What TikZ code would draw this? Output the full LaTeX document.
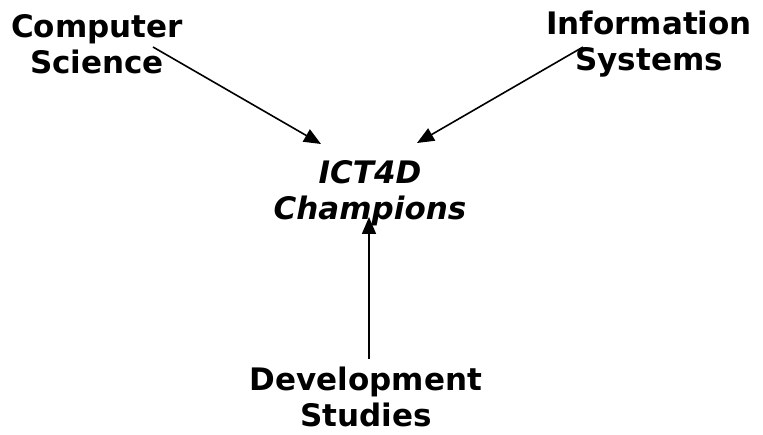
\documentclass[tikz,border=0pt]{standalone}
\usepackage{fontspec}
\setmainfont{DejaVu Sans}
\usepackage{tikz}
\usetikzlibrary{arrows.meta}
\usetikzlibrary{positioning}
\usetikzlibrary{calc}
\newcommand{\fnode}[3]{\node(#1)[field] at (#2){#3}}

\begin{document}
\begin{tikzpicture}[
        x=1pt, y=-1pt,
        every node/.style={font=\fontsize{31}{36}\selectfont\bfseries},
        field/.style={align=center, inner sep=0pt},
        goal/.style={align=center, inner sep=0pt, font=\fontsize{31}{36}\selectfont\bfseries\itshape},
        feed/.style={-{Triangle[length=17pt,width=14pt]}, line width=1.6pt}
      ]
      \useasboundingbox (0,0) rectangle (763,435);

      % The three fields round the goal
      \fnode{cs}{97,44}{Computer\\Science};
      \fnode{is}{649,44}{Information\\Systems};
      \fnode{ds}{366,397}{Development\\Studies};

      % The goal in the middle
      \node(ict)[goal] at (370,193){ICT4D\\Champions};

      % Where the arrows start and end
      \coordinate (csout) at (153,47);
      \coordinate (isout) at (583,47);
      \coordinate (dsout) at (369,359);
      \coordinate (ictcs) at (321,144);
      \coordinate (ictis) at (417,143);
      \coordinate (ictds) at (369,217);

      % Arrows into the goal
      \draw[feed] (csout) -- (ictcs);
      \draw[feed] (isout) -- (ictis);
      \draw[feed] (dsout) -- (ictds);
    \end{tikzpicture}
\end{document}
